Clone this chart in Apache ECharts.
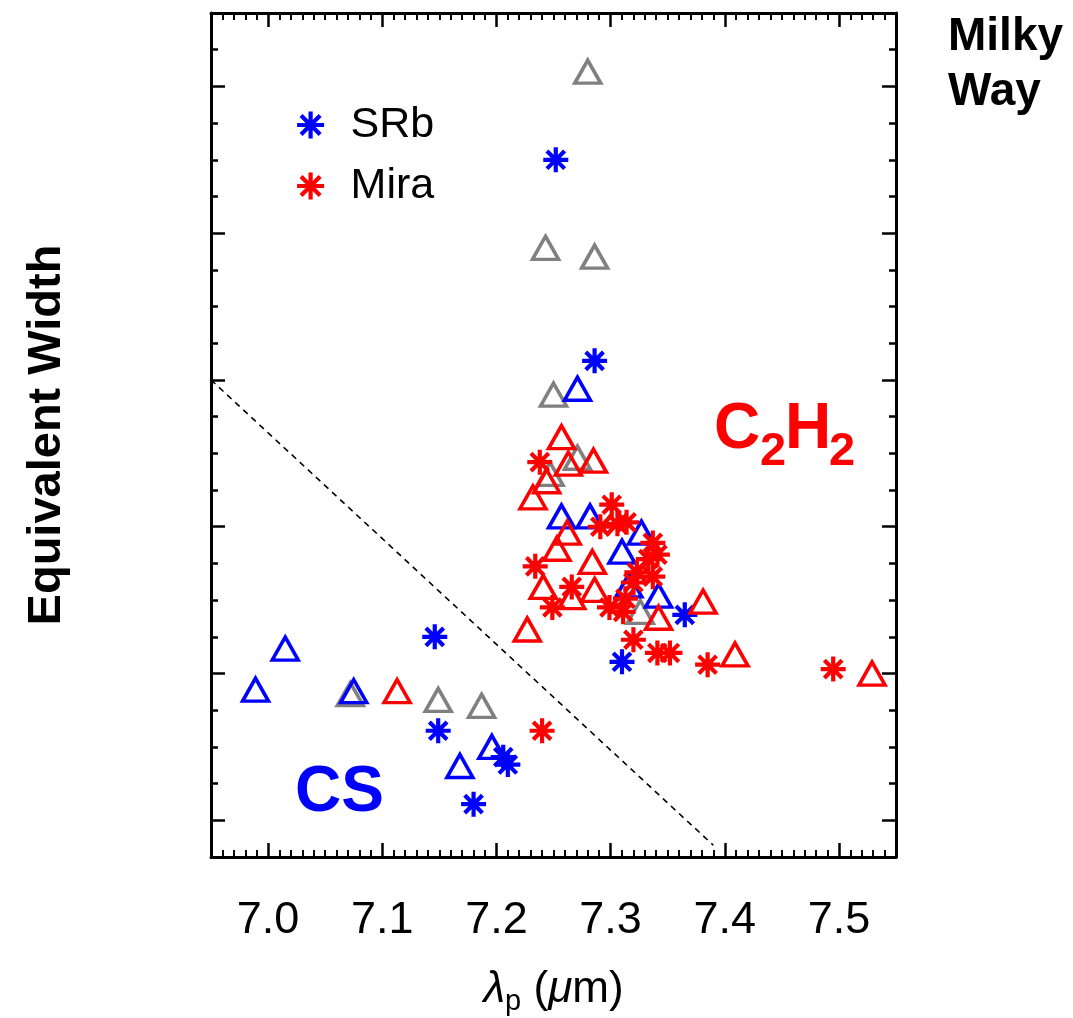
<!DOCTYPE html>
<html>
<head>
<meta charset="utf-8">
<script src="https://cdn.jsdelivr.net/npm/echarts@6/dist/echarts.min.js"></script>
<style>
html,body{margin:0;padding:0;background:#fff;}
#chart{width:1073px;height:1018px;}
</style>
</head>
<body>
<div id="chart"></div>
<script>
// ---- data (x = peak wavelength in micron, y = equivalent width, arbitrary units) ----
const srbStar = [[7.252,5.50],[7.286,4.13],[7.146,2.25],[7.149,1.61],[7.206,1.43],[7.210,1.38],[7.180,1.11],[7.310,2.08],[7.365,2.40]];
const srbTri = [[7.015,2.17],[6.989,1.89],[7.075,1.88],[7.196,1.50],[7.168,1.37],[7.271,3.94],[7.257,3.07],[7.282,3.07],[7.327,2.96],[7.310,2.83],[7.342,2.53],[7.316,2.60]];
const otherTri = [[7.280,6.10],[7.243,4.90],[7.286,4.84],[7.250,3.90],[7.271,3.47],[7.247,3.36],[7.072,1.86],[7.149,1.82],[7.187,1.78],[7.326,2.42]];
const miraTri = [[7.257,3.61],[7.263,3.43],[7.285,3.45],[7.244,3.31],[7.232,3.20],[7.262,2.96],[7.253,2.85],[7.284,2.76],[7.241,2.59],[7.286,2.57],[7.266,2.52],[7.227,2.30],[7.342,2.38],[7.381,2.49],[7.409,2.13],[7.529,2.00],[7.113,1.88]];
const miraStar = [[7.238,3.44],[7.301,3.15],[7.291,3.00],[7.306,3.02],[7.314,3.03],[7.337,2.89],[7.341,2.81],[7.234,2.73],[7.323,2.69],[7.320,2.62],[7.337,2.66],[7.266,2.59],[7.249,2.45],[7.299,2.45],[7.311,2.42],[7.313,2.51],[7.320,2.23],[7.341,2.14],[7.352,2.14],[7.385,2.06],[7.495,2.03],[7.240,1.61],[7.333,2.78]];
const dividerLine = [[6.95,4.0],[7.39,0.83]];
const xRange = [6.95, 7.55];
const yRange = [0.75, 6.5];

const FONT = 'Liberation Sans, Arial, Helvetica, sans-serif';
const BLUE = '#0000ff', RED = '#ff0000', GRAY = '#808080';
const ASTER = 'path://M0,-10L0,10M-10,0L10,0M-7.07,-7.07L7.07,7.07M-7.07,7.07L7.07,-7.07';

function starSeries(name, data, color) {
  return {
    name, type: 'scatter', data, symbol: ASTER, symbolSize: 25,
    itemStyle: { color: color, borderColor: color, borderWidth: 4.2, opacity: 1 },
    emphasis: { disabled: true }, z: 4
  };
}
function triSeries(name, data, color, z) {
  return {
    name, type: 'scatter', data, symbol: 'triangle', symbolSize: [26, 23],
    itemStyle: { color: 'rgba(0,0,0,0)', borderColor: color, borderWidth: 3.5, opacity: 1 },
    emphasis: { disabled: true }, z: z
  };
}

const tickCommon = () => ({
  axisLine: { show: true, onZero: false, lineStyle: { color: '#000', width: 3 } },
  axisTick: { show: true, inside: true, length: 14, lineStyle: { color: '#000', width: 2.5 } },
  splitLine: { show: false },
  minorSplitLine: { show: false }
});

const chart = echarts.init(document.getElementById('chart'), null, { renderer: 'canvas' });
const option = {
  animation: false,
  backgroundColor: '#fff',
  grid: { left: 211, right: 177, top: 13, bottom: 161, containLabel: false, outerBoundsMode: 'none' },
  legend: {
    data: ['SRb', 'Mira'],
    orient: 'vertical', left: 290, top: 98,
    itemWidth: 70, itemHeight: 27, itemGap: 17,
    selectedMode: false,
    itemStyle: { borderWidth: 4.2 },
    textStyle: { fontFamily: FONT, fontSize: 43, color: '#000', lineHeight: 44 }
  },
  xAxis: [
    Object.assign(tickCommon(), {
      type: 'value', position: 'bottom', min: xRange[0], max: xRange[1], splitNumber: 6,
      minorTick: { show: true, splitNumber: 10, length: 7, lineStyle: { color: '#000', width: 2 } },
      axisLabel: {
        show: true, margin: 41, color: '#000', fontFamily: FONT, fontSize: 45,
        formatter: v => (Math.abs(v * 10 - Math.round(v * 10)) < 1e-6 ? v.toFixed(1) : '')
      },
      name: '{i|λ}{s|p} ({i|μ}m)', nameLocation: 'middle', nameGap: 106,
      nameTextStyle: {
        fontFamily: FONT, fontSize: 44, color: '#000',
        rich: {
          i: { fontFamily: FONT, fontSize: 44, fontStyle: 'italic', color: '#000' },
          s: { fontFamily: FONT, fontSize: 29, color: '#000', padding: [24, 0, 0, 0] }
        }
      }
    }),
    Object.assign(tickCommon(), {
      type: 'value', position: 'top', min: xRange[0], max: xRange[1], splitNumber: 6,
      minorTick: { show: true, splitNumber: 10, length: 7, lineStyle: { color: '#000', width: 2 } },
      axisLabel: { show: false }
    })
  ],
  yAxis: [
    Object.assign(tickCommon(), {
      type: 'value', position: 'left', min: yRange[0], max: yRange[1], splitNumber: 6,
      minorTick: { show: true, splitNumber: 4, length: 7, lineStyle: { color: '#000', width: 2.5 } },
      axisLabel: { show: false },
      name: 'Equivalent Width', nameLocation: 'middle', nameGap: 140, nameRotate: 90,
      nameTextStyle: { fontFamily: FONT, fontSize: 47, fontWeight: 'bold', color: '#000' }
    }),
    Object.assign(tickCommon(), {
      type: 'value', position: 'right', min: yRange[0], max: yRange[1], splitNumber: 6,
      minorTick: { show: true, splitNumber: 4, length: 7, lineStyle: { color: '#000', width: 2.5 } },
      axisLabel: { show: false }
    })
  ],
  series: [
    {
      name: 'divider', type: 'line', data: dividerLine, symbol: 'none', silent: true,
      lineStyle: { color: '#000', width: 1.6, type: [6, 5] }, z: 2
    },
    triSeries('Other', otherTri, GRAY, 3),
    triSeries('SRb (triangle)', srbTri, BLUE, 3),
    starSeries('SRb', srbStar, BLUE),
    triSeries('Mira (triangle)', miraTri, RED, 4),
    starSeries('Mira', miraStar, RED)
  ],
  graphic: [
    { type: 'text', left: 948, top: 14, style: { text: 'Milky', font: 'bold 46px ' + FONT, fill: '#000' } },
    { type: 'text', left: 948, top: 69, style: { text: 'Way', font: 'bold 46px ' + FONT, fill: '#000' } },
    { type: 'text', left: 295, top: 761, style: { text: 'CS', font: 'bold 64px ' + FONT, fill: BLUE } },
    { type: 'text', left: 714, top: 398, style: { text: 'C', font: 'bold 64px ' + FONT, fill: RED } },
    { type: 'text', left: 760, top: 429, style: { text: '2', font: 'bold 47px ' + FONT, fill: RED } },
    { type: 'text', left: 785, top: 398, style: { text: 'H', font: 'bold 64px ' + FONT, fill: RED } },
    { type: 'text', left: 829, top: 429, style: { text: '2', font: 'bold 47px ' + FONT, fill: RED } }
  ]
};
chart.setOption(option);
</script>
</body>
</html>
